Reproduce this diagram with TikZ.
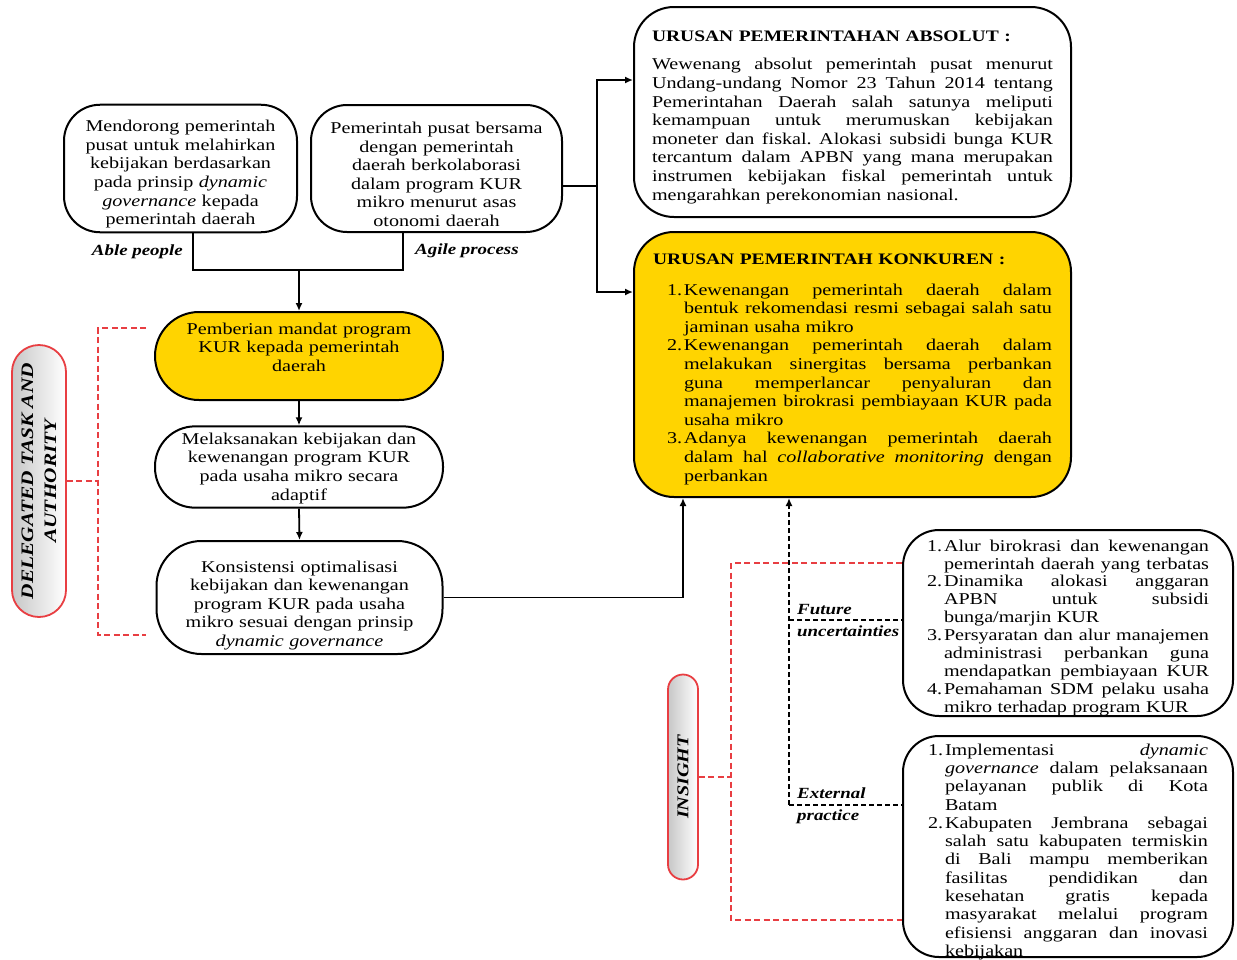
\documentclass[tikz,border=0pt]{standalone}
\usepackage{fontspec}
\setmainfont{Liberation Serif}[FakeStretch=1.22]
\usetikzlibrary{arrows.meta,calc}
\definecolor{kurgold}{RGB}{255,212,0}
\definecolor{dashred}{RGB}{232,62,66}
% a line whose word spaces are stretched to fill the given width
\newcommand\jl[2]{\leavevmode\hbox to #1{\spaceskip=.25em plus 1fil\xspaceskip=\spaceskip #2}}
\newcommand\bodysize{\fontsize{16.5}{18.6}\selectfont}
\newcommand\titlesize{\fontsize{16}{18.6}\selectfont}
\newcommand\num[1]{\makebox[17pt][l]{#1}}
% invisible struts that move a text block inside its box
\newcommand\tall[1]{\rule{0pt}{#1}}
\newcommand\deep[1]{\rule[-#1]{0pt}{0pt}}

\begin{document}
\begin{tikzpicture}[x=1pt,y=-1pt,
  flowbox/.style={draw=black, line width=2pt, inner sep=4pt, font=\bodysize},
  conn/.style={draw=black, line width=1.8pt},
  arr/.style={-{Latex[length=8pt,width=7pt]}},
  reddash/.style={draw=dashred, line width=1.8pt, dash pattern=on 6pt off 3.5pt},
  blackdash/.style={draw=black, line width=1.8pt, dash pattern=on 5pt off 3pt},
  lbl/.style={font=\fontsize{15.5}{18}\selectfont\bfseries\itshape, inner sep=0pt},
  sidetag/.style={draw=dashred, line width=1.8pt, rotate=90, inner sep=0pt,
    left color=black!22, right color=white, font=\bfseries\itshape, align=center}]

\useasboundingbox (0,0) rectangle (1237,959);

% ---------- left column ----------
\node[flowbox, rounded corners=36pt, minimum width=233pt, minimum height=127pt,
      text width=225pt, align=center] (pushA) at (180.5,168.5)
  {\tall{23pt}Mendorong pemerintah\\ pusat untuk melahirkan\\ kebijakan berdasarkan\\
   pada prinsip \textit{dynamic}\\ \textit{governance} kepada\\ pemerintah daerah};

\node[flowbox, rounded corners=36pt, minimum width=251pt, minimum height=127pt,
      text width=243pt, align=center] (pushB) at (436.5,168.5)
  {\tall{23pt}Pemerintah pusat bersama\\ dengan pemerintah\\ daerah berkolaborasi\\
   dalam program KUR\\ mikro menurut asas\\ otonomi daerah};

\node[lbl, anchor=base east] (able) at (183,255) {Able people};
\node[lbl, anchor=base west] (agile) at (415,254) {Agile process};

\node[flowbox, fill=kurgold, rounded corners=44pt, minimum width=288pt, minimum height=88pt,
      text width=270pt, align=center] (mandat) at (299,356)
  {Pemberian mandat program\\ KUR kepada pemerintah\\ daerah\deep{18pt}};

\node[flowbox, rounded corners=40pt, minimum width=288pt, minimum height=80pt,
      text width=270pt, align=center] (adapt) at (299,467)
  {\tall{14pt}Melaksanakan kebijakan dan\\ kewenangan program KUR\\ pada usaha mikro secara\\ adaptif};

\node[flowbox, rounded corners=45pt, minimum width=286pt, minimum height=113pt,
      text width=270pt, align=center] (konsist) at (299.5,597.5)
  {\tall{27pt}Konsistensi optimalisasi\\ kebijakan dan kewenangan\\ program KUR pada usaha\\
   mikro sesuai dengan prinsip\\ \textit{dynamic governance}};

\node[sidetag, minimum width=272pt, minimum height=54pt, rounded corners=27pt,
      font=\fontsize{17.5}{23}\selectfont\bfseries\itshape] (deleg) at (39,481)
  {DELEGATED TASK AND\\ AUTHORITY};

% ---------- right column ----------
\node[flowbox, rounded corners=40pt, minimum width=437pt, minimum height=210pt,
      text width=401pt, align=left] (absolut) at (852.5,112)
  {{\titlesize\bfseries\tall{21pt}URUSAN PEMERINTAHAN ABSOLUT :}\\[10pt]
   \jl{401pt}{Wewenang absolut pemerintah pusat menurut}\\
   \jl{401pt}{Undang-undang Nomor 23 Tahun 2014 tentang}\\
   \jl{401pt}{Pemerintahan Daerah salah satunya meliputi}\\
   \jl{401pt}{kemampuan untuk merumuskan kebijakan}\\
   \jl{401pt}{moneter dan fiskal. Alokasi subsidi bunga KUR}\\
   \jl{401pt}{tercantum dalam APBN yang mana merupakan}\\
   \jl{401pt}{instrumen kebijakan fiskal pemerintah untuk}\\
   mengarahkan perekonomian nasional.};

\node[flowbox, fill=kurgold, rounded corners=40pt, minimum width=437pt, minimum height=265pt,
      text width=399pt, align=left] (konkuren) at (852.5,364.5)
  {{\titlesize\bfseries\tall{20pt}URUSAN PEMERINTAH KONKUREN :}\\[12pt]
   \hspace*{14pt}\num{1.}\jl{368pt}{Kewenangan pemerintah daerah dalam}\\
   \hspace*{31pt}\jl{368pt}{bentuk rekomendasi resmi sebagai salah satu}\\
   \hspace*{31pt}jaminan usaha mikro\\
   \hspace*{14pt}\num{2.}\jl{368pt}{Kewenangan pemerintah daerah dalam}\\
   \hspace*{31pt}\jl{368pt}{melakukan sinergitas bersama perbankan}\\
   \hspace*{31pt}\jl{368pt}{guna memperlancar penyaluran dan}\\
   \hspace*{31pt}\jl{368pt}{manajemen birokrasi pembiayaan KUR pada}\\
   \hspace*{31pt}usaha mikro\\
   \hspace*{14pt}\num{3.}\jl{368pt}{Adanya kewenangan pemerintah daerah}\\
   \hspace*{31pt}\jl{368pt}{dalam hal \textit{collaborative monitoring} dengan}\\
   \hspace*{31pt}perbankan};

\node[flowbox, rounded corners=36pt, minimum width=330pt, minimum height=186pt, inner ysep=0pt,
      text width=282pt, align=left, font=\fontsize{16.5}{17.9}\selectfont] (future) at (1068,623)
  {\tall{21pt}\num{1.}\jl{265pt}{Alur birokrasi dan kewenangan}\\
   \hspace*{17pt}\jl{265pt}{pemerintah daerah yang terbatas}\\
   \num{2.}\jl{265pt}{Dinamika alokasi anggaran}\\
   \hspace*{17pt}\jl{265pt}{APBN untuk subsidi}\\
   \hspace*{17pt}bunga/marjin KUR\\
   \num{3.}\jl{265pt}{Persyaratan dan alur manajemen}\\
   \hspace*{17pt}\jl{265pt}{administrasi perbankan guna}\\
   \hspace*{17pt}\jl{265pt}{mendapatkan pembiayaan KUR}\\
   \num{4.}\jl{265pt}{Pemahaman SDM pelaku usaha}\\
   \hspace*{17pt}mikro terhadap program KUR};

\node[flowbox, rounded corners=36pt, minimum width=330pt, minimum height=221pt, inner ysep=-4pt,
      text width=280pt, align=left, font=\fontsize{16.5}{18.3}\selectfont] (external) at (1068,846.5)
  {\tall{22pt}\num{1.}\jl{263pt}{Implementasi \textit{dynamic}}\\
   \hspace*{17pt}\jl{263pt}{\textit{governance} dalam pelaksanaan}\\
   \hspace*{17pt}\jl{263pt}{pelayanan publik di Kota}\\
   \hspace*{17pt}Batam\\
   \num{2.}\jl{263pt}{Kabupaten Jembrana sebagai}\\
   \hspace*{17pt}\jl{263pt}{salah satu kabupaten termiskin}\\
   \hspace*{17pt}\jl{263pt}{di Bali mampu memberikan}\\
   \hspace*{17pt}\jl{263pt}{fasilitas pendidikan dan}\\
   \hspace*{17pt}\jl{263pt}{kesehatan gratis kepada}\\
   \hspace*{17pt}\jl{263pt}{masyarakat melalui program}\\
   \hspace*{17pt}\jl{263pt}{efisiensi anggaran dan inovasi}\\
   \hspace*{17pt}kebijakan};

\node[sidetag, minimum width=205pt, minimum height=30pt, rounded corners=15pt,
      font=\bodysize\bfseries\itshape] (insight) at (683,777) {INSIGHT};

\node[lbl, anchor=base west] (futA) at (797,614) {Future};
\node[lbl, anchor=base west] (futB) at (797,636) {uncertainties};
\node[lbl, anchor=base west] (extA) at (797,798) {External};
\node[lbl, anchor=base west] (extB) at (797,820) {practice};

% ---------- junction points ----------
\coordinate (jL) at (193,270);
\coordinate (jR) at (403,270);
\coordinate (jM) at (299,270);
\coordinate (bus) at (597,186);
\coordinate (kx) at (683,0);
\coordinate (fu) at (789,620);
\coordinate (dv) at (789,805);
\coordinate (rTop) at (731,563);
\coordinate (rBot) at (731,920);
\coordinate (dTop) at (98,328);
\coordinate (dBot) at (98,635);
\coordinate (dTopEnd) at (146,328);
\coordinate (dBotEnd) at (146,635);

% ---------- solid connectors ----------
\draw[conn] (pushA.south -| jL) -- (jL) -- (jR) -- (pushB.south -| jR);
\draw[conn, arr] (jM) -- (mandat.north);
\draw[conn, arr] (mandat.south) -- (adapt.north);
\draw[conn, arr] (adapt.south) -- (konsist.north);
\draw[conn, arr] (konsist.east) -| (konkuren.south -| kx);
\draw[conn] (pushB.east |- bus) -- (bus);
\draw[conn, arr] (bus) |- ($(absolut.west)+(0,-32)$);
\draw[conn, arr] (bus) |- ($(konkuren.west)+(0,-72.5)$);

% ---------- dashed links ----------
\draw[blackdash, arr] (dv) -- (konkuren.south -| dv);
\draw[blackdash] (fu) -- (future.west |- fu);
\draw[blackdash] (dv) -- (external.west |- dv);

\draw[reddash] (insight.south) -- (insight.south -| rTop);
\draw[reddash] (future.west |- rTop) -- (rTop) -- (rBot) -- (external.west |- rBot);

\draw[reddash] (deleg.south) -- (deleg.south -| dTop);
\draw[reddash] (dTopEnd) -- (dTop) -- (dBot) -- (dBotEnd);

\end{tikzpicture}
\end{document}
